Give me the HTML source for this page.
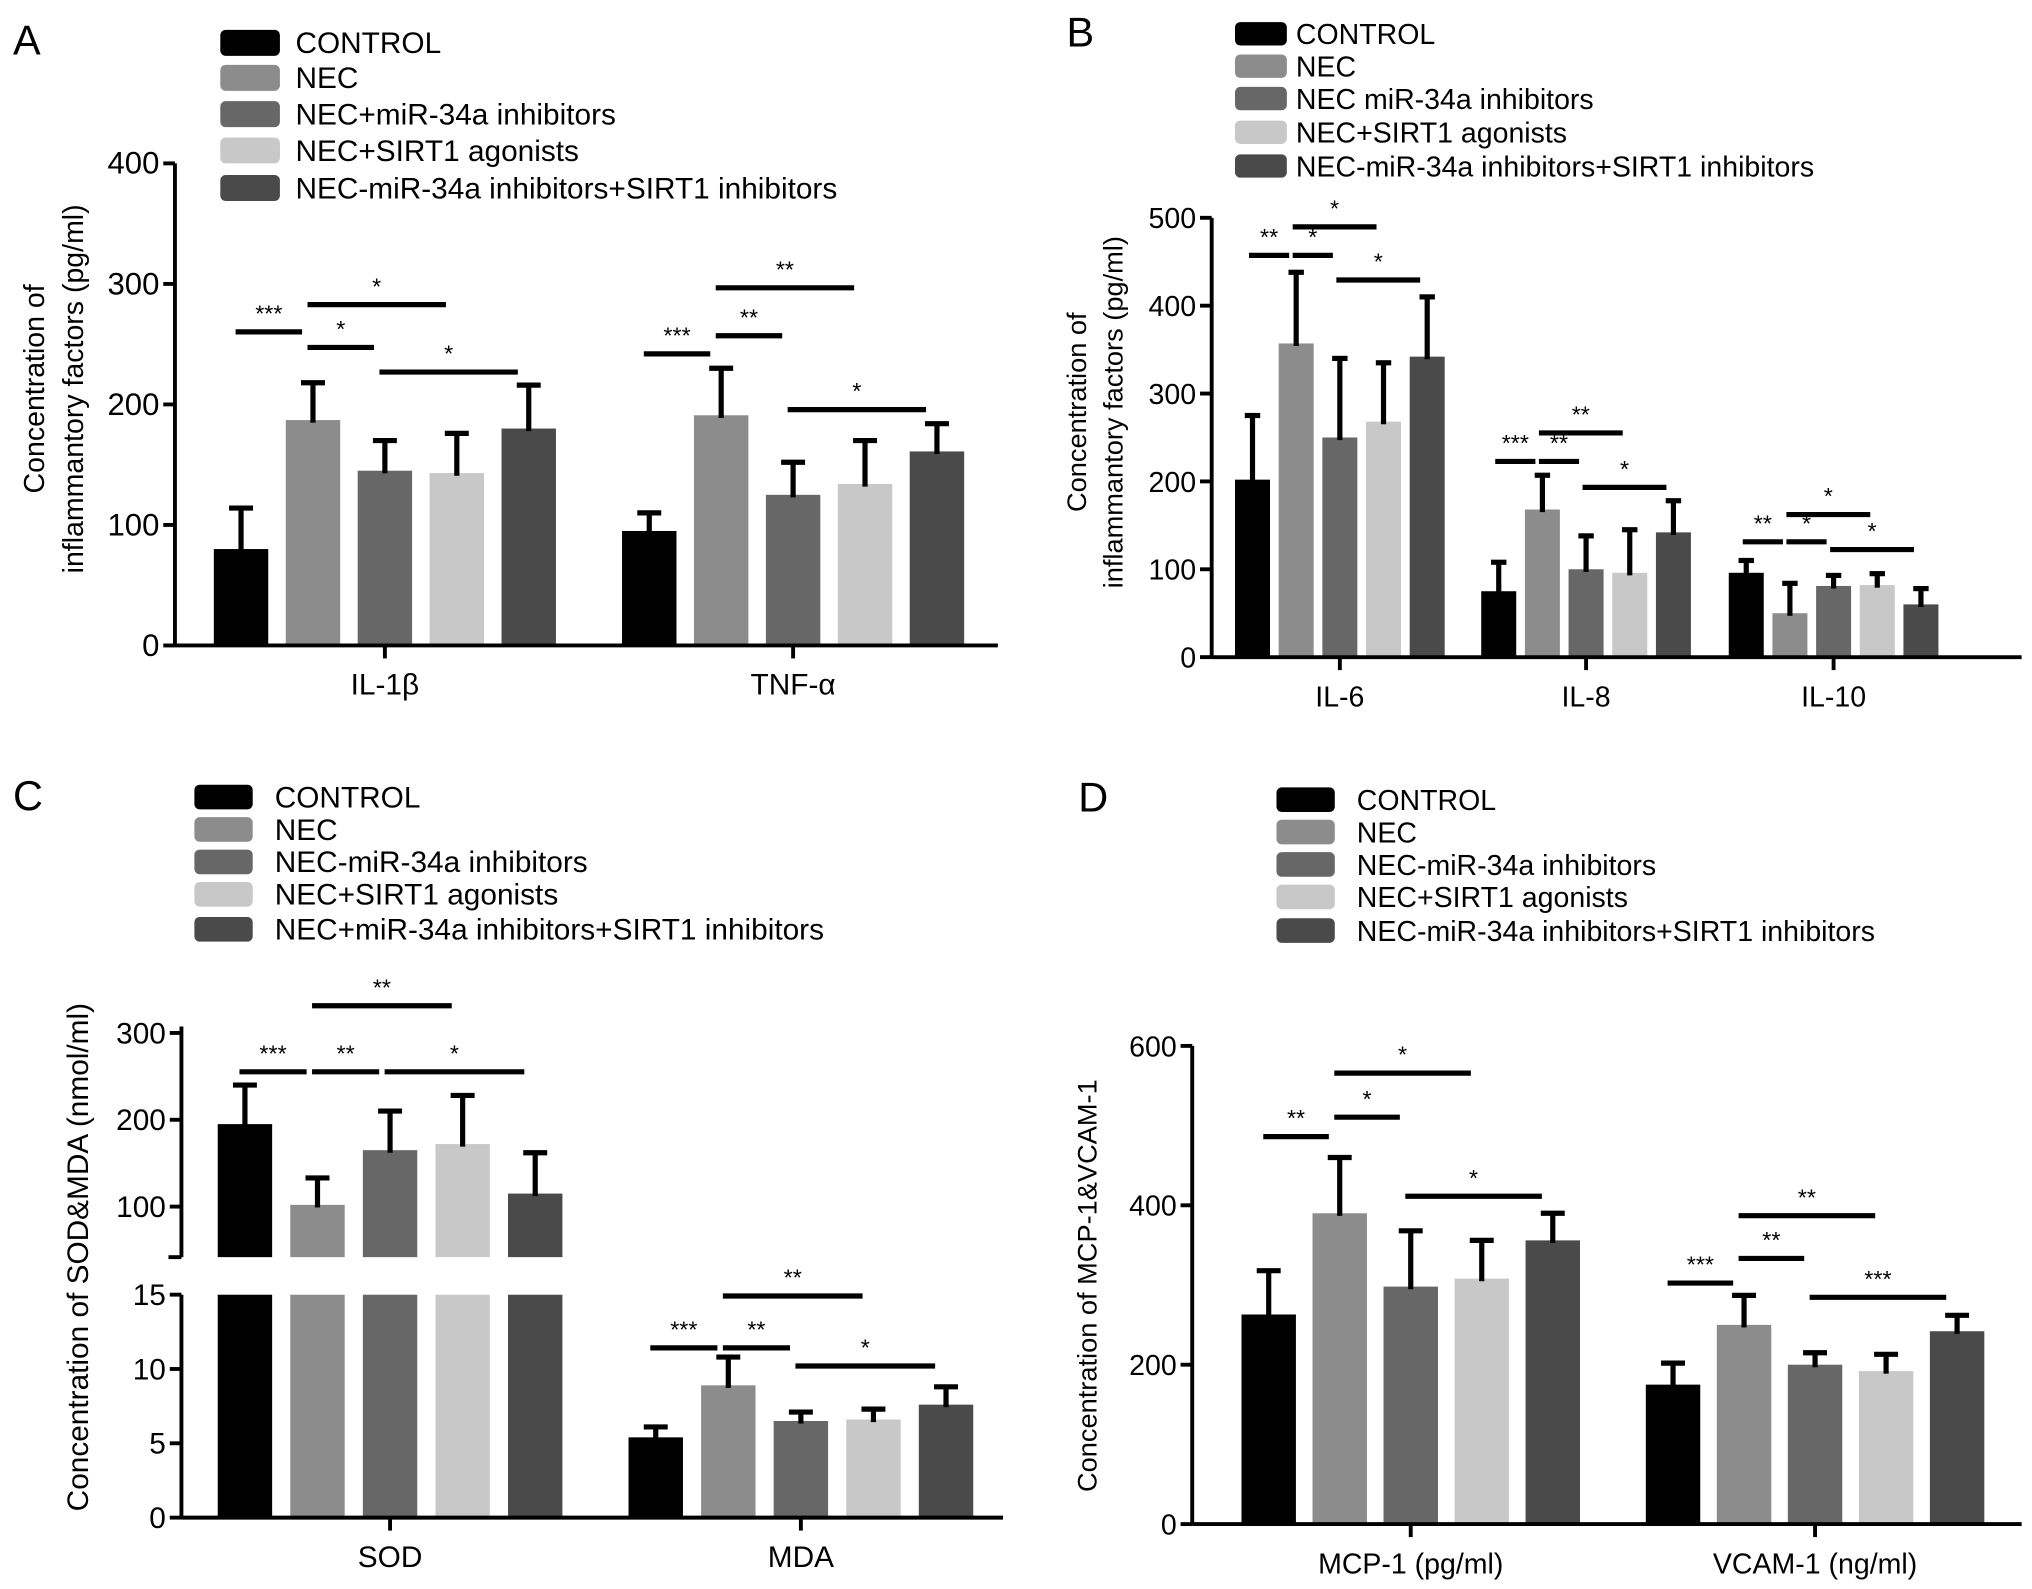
<!DOCTYPE html>
<html><head><meta charset="utf-8"><style>
html,body{margin:0;padding:0;background:#fff}
svg{display:block;font-family:"Liberation Sans",Arial,sans-serif}
</style></head><body>
<svg id="fig" width="2032" height="1589" viewBox="0 0 1568 1226" xmlns="http://www.w3.org/2000/svg">
<rect width="1568" height="1226" fill="#fff"/>
</svg>
<script>
const colors=["#000000","#8c8c8c","#676767","#c8c8c8","#4a4a4a"];
// Panel A data
const aCats=["IL-1β","TNF-α"];
const aVals=[[80,187,145,143,180],[95,191,125,134,161]];
const aErr=[[114,218,170,176,216],[110,230,152,170,184]];
const aTicks=[0,100,200,300,400];
const aLegend=["CONTROL","NEC","NEC+miR-34a inhibitors","NEC+SIRT1 agonists","NEC-miR-34a inhibitors+SIRT1 inhibitors"];
// Panel B data
const bCats=["IL-6","IL-8","IL-10"];
const bVals=[[202,357,250,268,342],[75,168,100,96,142],[96,50,81,82,60]];
const bErr=[[275,438,340,335,410],[108,207,138,145,178],[110,84,93,95,78]];
const bTicks=[0,100,200,300,400,500];
const bLegend=["CONTROL","NEC","NEC miR-34a inhibitors","NEC+SIRT1 agonists","NEC-miR-34a inhibitors+SIRT1 inhibitors"];
// Panel C data
const cCats=["SOD","MDA"];
const cVals=[[195,102,165,172,115],[5.4,8.9,6.5,6.6,7.6]];
const cErr=[[240,133,210,228,162],[6.1,10.8,7.1,7.3,8.8]];
const cTicksUpper=[100,200,300];
const cTicksLower=[0,5,10,15];
const cLegend=["CONTROL","NEC","NEC-miR-34a inhibitors","NEC+SIRT1 agonists","NEC+miR-34a inhibitors+SIRT1 inhibitors"];
// Panel D data
const dCats=["MCP-1 (pg/ml)","VCAM-1 (ng/ml)"];
const dVals=[[263,390,298,308,356],[175,250,200,192,242]];
const dErr=[[318,460,368,356,390],[202,287,215,213,262]];
const dTicks=[0,200,400,600];
const dLegend=["CONTROL","NEC","NEC-miR-34a inhibitors","NEC+SIRT1 agonists","NEC-miR-34a inhibitors+SIRT1 inhibitors"];
// significance annotations: [group, fromBar, toBar, y, stars]
const aSig=[[0,0,1,256,"***"],[0,1,2,268,"*"],[0,1,3,235,"*"],[0,2,4,287,"*"],[1,0,1,273,"***"],[1,1,2,259,"**"],[1,1,3,222,"**"],[1,2,4,316,"*"]];
const bSig=[[0,0,1,197,"**"],[0,1,3,175,"*"],[0,1,2,197,"*"],[0,2,4,216,"*"],[1,0,1,356,"***"],[1,1,3,334,"**"],[1,1,2,356,"**"],[1,2,4,376,"*"],[2,0,1,418,"**"],[2,1,3,397,"*"],[2,1,2,418,"*"],[2,2,4,424,"*"]];
const cSig=[[0,0,1,827,"***"],[0,1,2,827,"**"],[0,2,4,827,"*"],[0,1,3,776,"**"],[1,0,1,1040,"***"],[1,1,2,1040,"**"],[1,2,4,1054,"*"],[1,1,3,1000,"**"]];
const dSig=[[0,0,1,877,"**"],[0,1,2,862,"*"],[0,1,3,828,"*"],[0,2,4,923,"*"],[1,0,1,990,"***"],[1,1,2,971,"**"],[1,1,3,938,"**"],[1,2,4,1001,"***"]];

const svg=document.getElementById('fig');
const NS="http://www.w3.org/2000/svg";
function el(tag,attrs,name,text){const e=document.createElementNS(NS,tag);for(const k in attrs)e.setAttribute(k,attrs[k]);


if(text!==undefined)e.textContent=text;svg.appendChild(e);return e;}
function line(x1,y1,x2,y2,w,name){return el('line',{x1,y1,x2,y2,stroke:'#000','stroke-width':w},name);}

function panel(p){
  const {id,axisX,axisEnd,groupStarts,barW,step,yScale,cats,vals,errs,sig,legend,legX,legTextX,legY,fs,swW,swH}=p;
  cats.forEach((c,g)=>{
    vals[g].forEach((v,i)=>{
      const x=groupStarts[g]+i*step;
      const yb=p.barBottom(v,g), yt=yScale(v,g), ye=yScale(errs[g][i],g);
      el('rect',{x:x,y:yt,width:barW,height:yb-yt,fill:colors[i]},id+'-bar-'+g+'-'+i);
      const cx=x+barW/2;
      line(cx,ye,cx,yt+2,4,id+'-error-bar');
      line(cx-barW*0.22,ye,cx+barW*0.22,ye,4,id+'-error-cap');
    });
    const gc=groupStarts[g]+(4*step+barW)/2;
    line(gc,p.zeroY,gc,p.zeroY+10,3,id+'-x-tick');
    el('text',{x:gc,y:p.zeroY+38,'font-size':fs,'text-anchor':'middle'},id+'-x-label',c);
  });
  line(axisX,p.zeroY,axisEnd,p.zeroY,3,id+'-x-axis');
  sig.forEach(s=>{
    const [g,a,b,y,st]=s;
    const x1=groupStarts[g]+a*step+barW*0.5-barW*0.1, x2=groupStarts[g]+b*step+barW*0.5-barW*0.2;
    line(x1,y,x2,y,4,id+'-sig-line');
    el('text',{x:(x1+x2)/2,y:y-8,'font-size':18,'text-anchor':'middle'},id+'-sig-stars',st);
  });
  legend.forEach((t,i)=>{
    el('rect',{x:legX,y:legY[i]-swH/2,width:swW,height:swH,rx:4,fill:colors[i]},id+'-legend-swatch');
    el('text',{x:legTextX,y:legY[i]+8,'font-size':fs},id+'-legend-entry',t);
  });
}
function yAxis(id,x,y0,y1,ticks,ys,fs){
  line(x,y0,x,y1,3,id+'-y-axis');
  ticks.forEach(t=>{const y=ys(t);line(x-9,y,x,y,3,id+'-y-tick');
    el('text',{x:x-12,y:y+8,'font-size':fs,'text-anchor':'end'},id+'-y-tick-label',String(t));});
}

// Panel A
{const ys=v=>498-v*0.93;
yAxis('a',135,498,126,aTicks,ys,24);
panel({id:'a',axisX:135,axisEnd:770,groupStarts:[165,480],barW:42,step:55.5,yScale:ys,barBottom:()=>498,zeroY:498,cats:aCats,vals:aVals,errs:aErr,sig:aSig,legend:aLegend,legX:170,legTextX:228,legY:[33,60,88,116,145],fs:23,swW:46,swH:20});
el('text',{x:10,y:42,'font-size':32},'panel-a-label','A');
el('text',{transform:'translate(34,300) rotate(-90)','font-size':22,'text-anchor':'middle'},'a-y-axis-title','Concentration of');
el('text',{transform:'translate(64,300) rotate(-90)','font-size':22,'text-anchor':'middle'},'a-y-axis-title','inflammantory factors (pg/ml)');}

// Panel B
{const ys=v=>507-v*0.678;
yAxis('b',935,507,168,bTicks,ys,22);
panel({id:'b',axisX:935,axisEnd:1560,groupStarts:[953,1143,1334],barW:27,step:33.7,yScale:ys,barBottom:()=>507,zeroY:507,cats:bCats,vals:bVals,errs:bErr,sig:bSig,legend:bLegend,legX:953,legTextX:1000,legY:[26,51,76,102,128],fs:22,swW:40,swH:18});
el('text',{x:823,y:36,'font-size':32},'panel-b-label','B');
el('text',{transform:'translate(838,318) rotate(-90)','font-size':21,'text-anchor':'middle'},'b-y-axis-title','Concentration of');
el('text',{transform:'translate(866,318) rotate(-90)','font-size':21,'text-anchor':'middle'},'b-y-axis-title','inflammantory factors (pg/ml)');}

// Panel C (broken axis)
{const upper=v=>931-(v-100)*0.67, lower=v=>1171-v*11.47;
const ys=(v,g)=>g===0?upper(v):lower(v);
line(140,970,140,792,3,'c-y-axis-upper');
line(130,970,140,970,3,'c-y-break-tick');
cTicksUpper.forEach(t=>{const y=upper(t);line(131,y,140,y,3,'c-y-tick');el('text',{x:128,y:y+8,'font-size':23,'text-anchor':'end'},'c-y-tick-label',String(t));});
line(140,999,140,1171,3,'c-y-axis-lower');
cTicksLower.forEach(t=>{const y=lower(t);line(131,y,140,y,3,'c-y-tick');el('text',{x:128,y:y+8,'font-size':23,'text-anchor':'end'},'c-y-tick-label',String(t));});
[0,1,2,3,4].forEach(i=>{el('rect',{x:168+i*56,y:999,width:42,height:172,fill:colors[i]},'c-sod-bar-lower-'+i);});
panel({id:'c',axisX:140,axisEnd:774,groupStarts:[168,485],barW:42,step:56,yScale:ys,barBottom:(v,g)=>g===0?970:1171,zeroY:1171,cats:cCats,vals:cVals,errs:cErr,sig:cSig,legend:cLegend,legX:150,legTextX:212,legY:[615,640,665,690,717],fs:23,swW:45,swH:19});
el('text',{x:10,y:625,'font-size':32},'panel-c-label','C');
el('text',{transform:'translate(68,970) rotate(-90)','font-size':23,'text-anchor':'middle'},'c-y-axis-title','Concentration of SOD&MDA (nmol/ml)');}

// Panel D
{const ys=v=>1176-v*0.615;
yAxis('d',920,1176,807,dTicks,ys,22);
panel({id:'d',axisX:920,axisEnd:1560,groupStarts:[958,1270],barW:42,step:54.8,yScale:ys,barBottom:()=>1176,zeroY:1176,cats:dCats,vals:dVals,errs:dErr,sig:dSig,legend:dLegend,legX:985,legTextX:1047,legY:[617,642,667,692,718],fs:22,swW:45,swH:19});
el('text',{x:832,y:626,'font-size':32},'panel-d-label','D');
el('text',{transform:'translate(846,992) rotate(-90)','font-size':21,'text-anchor':'middle'},'d-y-axis-title','Concentration of MCP-1&VCAM-1');}
</script>
</body></html>
